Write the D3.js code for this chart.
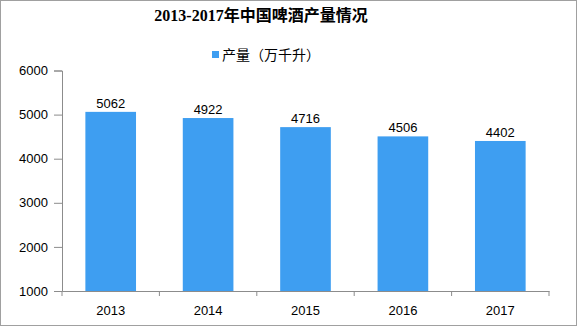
<!DOCTYPE html>
<html>
<head>
<meta charset="utf-8">
<script src="https://cdn.jsdelivr.net/npm/d3@7"></script>
<style>
  body { margin: 0; background: #fff; }
  svg { display: block; }
</style>
</head>
<body>
<svg id="chart" width="578" height="328"></svg>
<script>
  // chart data
  var years = ["2013", "2014", "2015", "2016", "2017"];
  var output = [5062, 4922, 4716, 4506, 4402];
  var yTicks = [1000, 2000, 3000, 4000, 5000, 6000];
  var title = "2013-2017年中国啤酒产量情况";
  var seriesName = "产量（万千升）";

  var svg = d3.select("#chart");
  var barColor = "#3e9ef1";
  var axisColor = "#8c8c8c";
  var numFont = "'Liberation Sans', 'DejaVu Sans', sans-serif";

  // outer frame
  svg.append("rect")
    .attr("x", 0.5).attr("y", 0.5)
    .attr("width", 576).attr("height", 325)
    .attr("fill", "none").attr("stroke", "#a0a0a0");

  var x = d3.scaleBand().domain(years).range([62, 549]).paddingInner(0.48).paddingOuter(0.24);
  var y = d3.scaleLinear().domain([1000, 6000]).range([291, 70.5]);

  // title
  svg.append("text")
    .attr("x", 261).attr("y", 21)
    .attr("text-anchor", "middle")
    .style("font-family", "'Liberation Serif', 'Noto Sans CJK SC', serif")
    .style("font-weight", "bold")
    .style("font-size", "16px")
    .text(title);

  // legend
  svg.append("rect")
    .attr("x", 212).attr("y", 51)
    .attr("width", 7).attr("height", 7)
    .attr("fill", barColor);
  svg.append("text")
    .attr("x", 222).attr("y", 60)
    .style("font-family", "'Noto Sans CJK SC', sans-serif")
    .style("font-size", "14px")
    .text(seriesName);

  // bars
  svg.append("g").selectAll("rect")
    .data(output)
    .enter().append("rect")
    .attr("x", function (d, i) { return x(years[i]); })
    .attr("y", function (d) { return y(d); })
    .attr("width", x.bandwidth())
    .attr("height", function (d) { return y(1000) - y(d); })
    .attr("fill", barColor);

  // value labels
  svg.append("g").selectAll("text")
    .data(output)
    .enter().append("text")
    .attr("x", function (d, i) { return x(years[i]) + x.bandwidth() / 2; })
    .attr("y", function (d) { return y(d) - 4; })
    .attr("text-anchor", "middle")
    .style("font-family", numFont)
    .style("font-size", "13px")
    .text(function (d) { return d; });

  // y axis
  var yAxis = svg.append("g")
    .attr("transform", "translate(62,0)")
    .call(d3.axisLeft(y).tickValues(yTicks).tickSize(8).tickPadding(6).tickFormat(d3.format("d")));

  // x axis
  var xAxis = svg.append("g")
    .attr("transform", "translate(0,291)")
    .call(d3.axisBottom(x).tickSize(0).tickPadding(15));
  // tick marks between categories
  xAxis.selectAll(".sep")
    .data(d3.range(years.length + 1))
    .enter().append("line")
    .attr("class", "sep")
    .attr("x1", function (i) { return 62 + i * (549 - 62) / years.length; })
    .attr("x2", function (i) { return 62 + i * (549 - 62) / years.length; })
    .attr("y1", 0).attr("y2", 5)
    .attr("stroke", axisColor);

  [yAxis, xAxis].forEach(function (g) {
    g.selectAll("path.domain").attr("stroke", axisColor);
    g.selectAll(".tick line").attr("stroke", axisColor);
    g.selectAll("text")
      .attr("fill", "#000")
      .style("font-family", numFont)
      .style("font-size", "13px");
  });
</script>
</body>
</html>
